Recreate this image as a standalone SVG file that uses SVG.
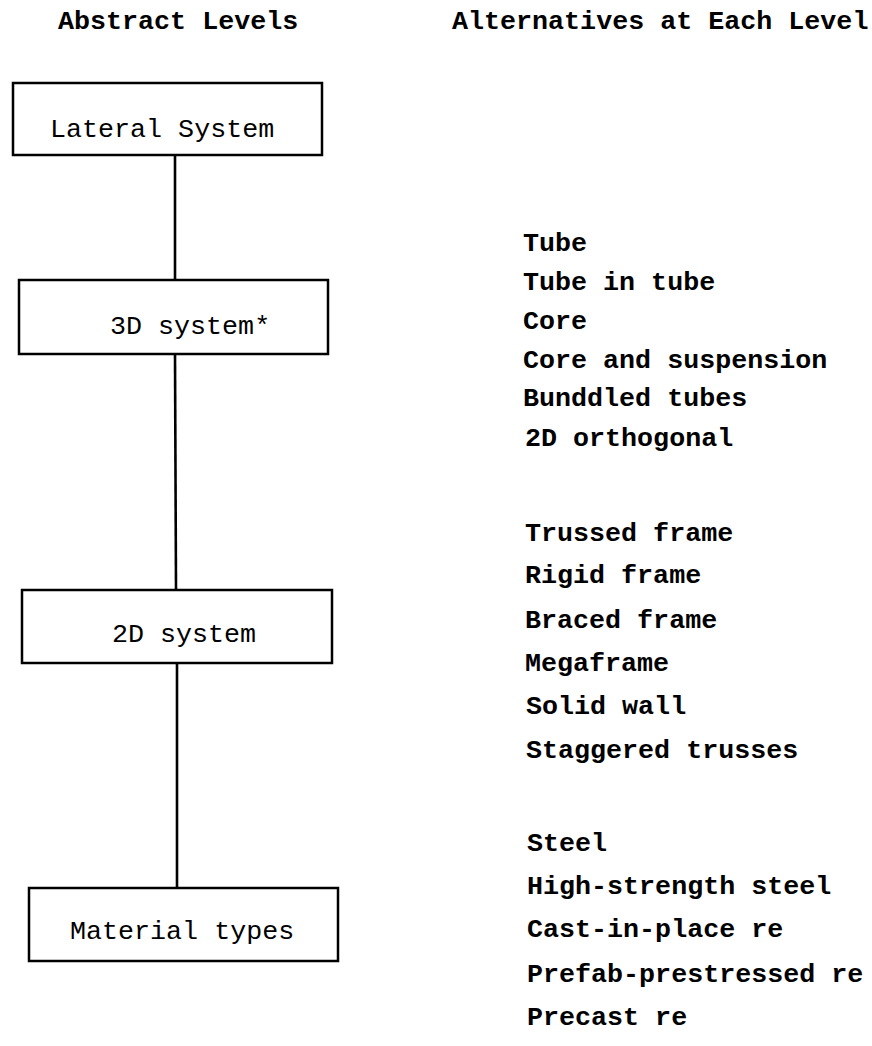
<svg xmlns="http://www.w3.org/2000/svg" width="872" height="1046" viewBox="0 0 872 1046">
<style>
.t{font-family:"Liberation Mono","Courier New",monospace;font-size:26.7px;fill:#000}
.b{font-weight:bold}
.box{fill:#fff;stroke:#000;stroke-width:2.5}
.ln{stroke:#000;stroke-width:2.6;fill:none}
</style>
<rect width="872" height="1046" fill="#fff"/>
<g id="headers">
<text class="t b" x="58" y="29">Abstract Levels</text>
<text class="t b" x="452" y="29">Alternatives at Each Level</text>
</g>
<g id="connectors">
<line class="ln" x1="175" y1="155" x2="175" y2="280"/>
<line class="ln" x1="175" y1="354" x2="176" y2="590"/>
<line class="ln" x1="177" y1="663" x2="177" y2="888"/>
</g>
<g id="node-lateral">
<rect class="box" x="13" y="83" width="309" height="72"/>
<text class="t" x="50" y="137">Lateral System</text>
</g>
<g id="node-3d">
<rect class="box" x="19" y="280" width="309" height="74"/>
<text class="t" x="110" y="334">3D system*</text>
</g>
<g id="node-2d">
<rect class="box" x="22" y="590" width="310" height="73"/>
<text class="t" x="112" y="642">2D system</text>
</g>
<g id="node-material">
<rect class="box" x="29" y="888" width="309" height="73"/>
<text class="t" x="70" y="939">Material types</text>
</g>
<g id="alt-3d">
<text class="t b" x="523" y="251">Tube</text>
<text class="t b" x="523" y="290">Tube in tube</text>
<text class="t b" x="523" y="329">Core</text>
<text class="t b" x="523" y="368">Core and suspension</text>
<text class="t b" x="523" y="406">Bunddled tubes</text>
<text class="t b" x="525" y="446">2D orthogonal</text>
</g>
<g id="alt-2d">
<text class="t b" x="525" y="541">Trussed frame</text>
<text class="t b" x="525" y="583">Rigid frame</text>
<text class="t b" x="525" y="628">Braced frame</text>
<text class="t b" x="525" y="671">Megaframe</text>
<text class="t b" x="526" y="714">Solid wall</text>
<text class="t b" x="526" y="758">Staggered trusses</text>
</g>
<g id="alt-material">
<text class="t b" x="527" y="851">Steel</text>
<text class="t b" x="527" y="894">High-strength steel</text>
<text class="t b" x="527" y="937">Cast-in-place re</text>
<text class="t b" x="527" y="982">Prefab-prestressed re</text>
<text class="t b" x="527" y="1025">Precast re</text>
</g>
</svg>
